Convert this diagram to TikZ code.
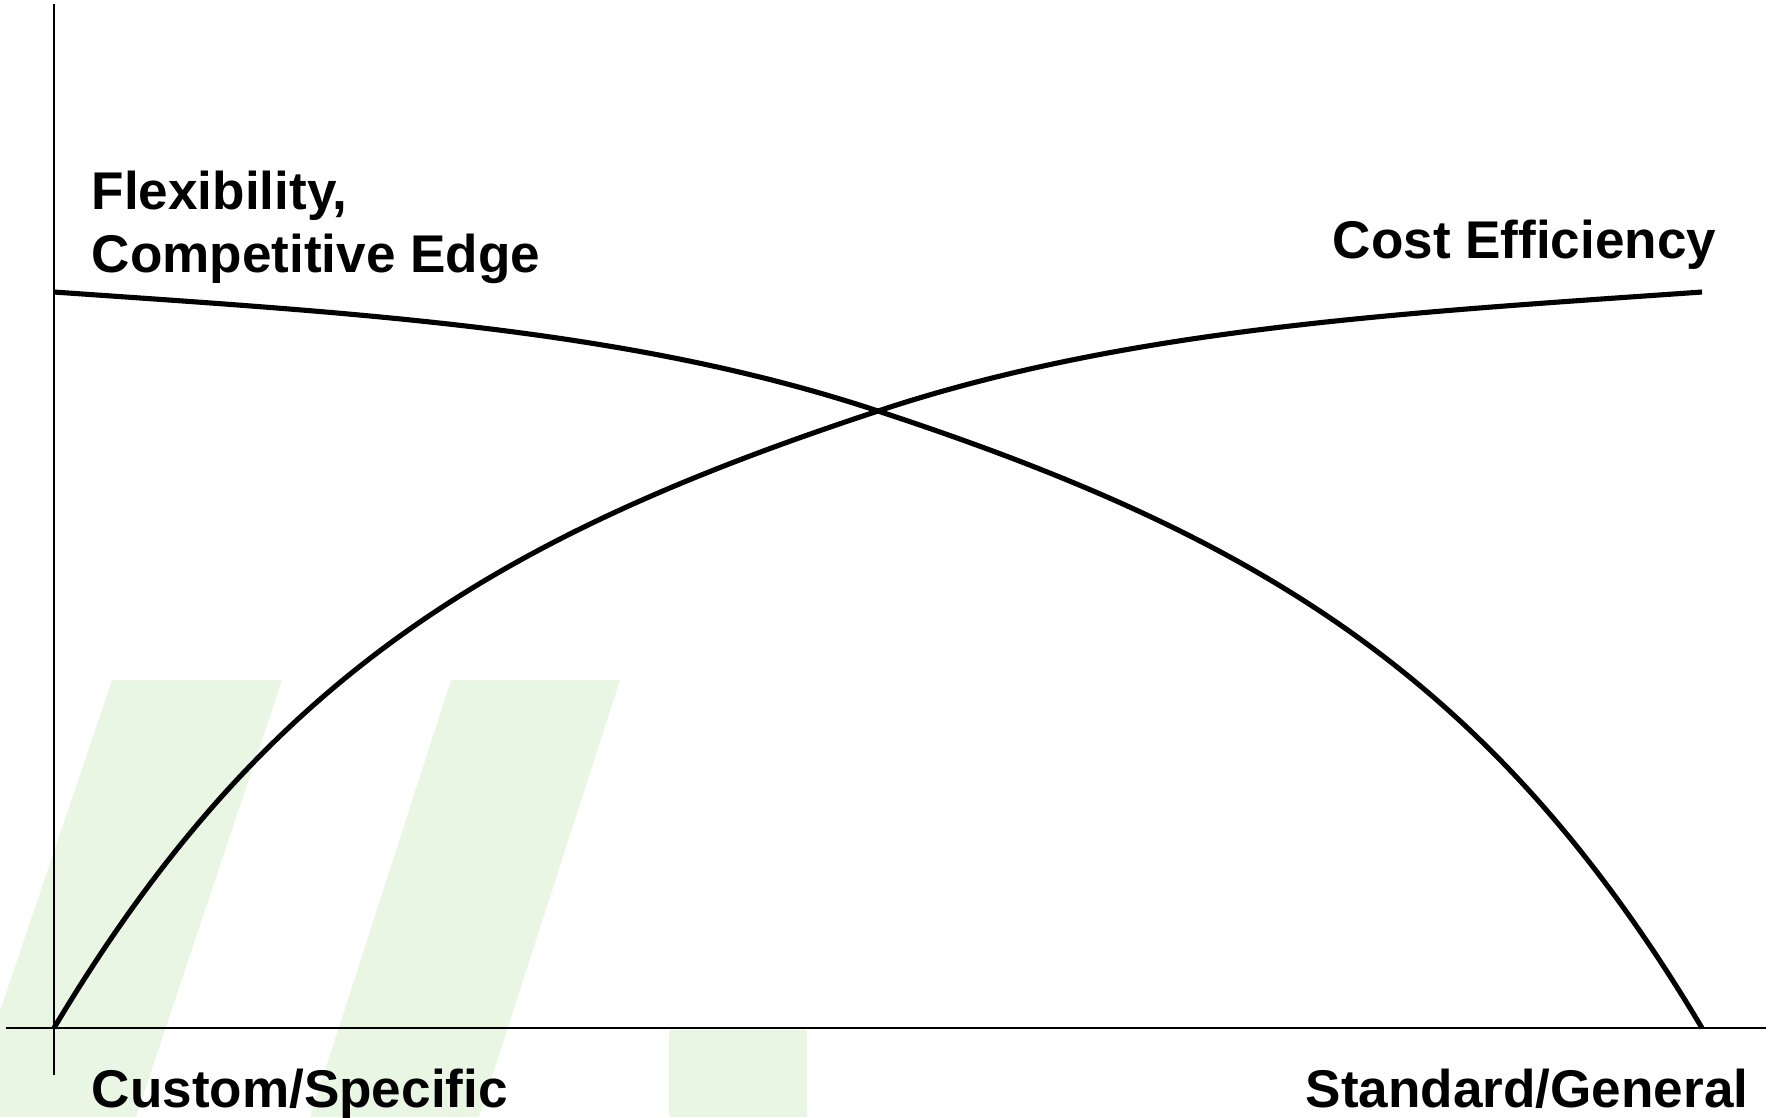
\documentclass[tikz,border=0pt]{standalone}
\usepackage{fontspec}
\setmainfont{Liberation Sans}
\definecolor{ink} {HTML}{000000}
\definecolor{leaf}{HTML}{EAF6E4}
\tikzset{
  axisline/.style={draw=ink, line width=0.6pt},
  tradecurve/.style={draw=ink, line width=1.45pt, line join=round},
  axislabel/.style={font=\fontsize{15.1}{17.9}\selectfont\bfseries,
                    text=ink, inner sep=0pt, align=left},
  leafband/.style={fill=leaf, draw=none}
}

\begin{document}
\begin{tikzpicture}[x=0.01cm, y=-0.01cm]
    \useasboundingbox (0,0) rectangle (1777,1117);

    \fill[leafband] (112,680) -- (282,680) -- (136,1117) -- (0,1117) -- (0,1011) -- cycle;
    \fill[leafband] (451,680) -- (620,680) -- (479,1117) -- (310,1117) -- cycle;
    \fill[leafband] (669,1030) rectangle (807,1117);

    \coordinate (origin) at (54,1028);
    \coordinate (ytop)   at (54,4);
    \coordinate (ybot)   at (54,1075);
    \coordinate (xleft)  at (6,1028);
    \coordinate (xright) at (1766,1028);
    \coordinate (flexstart) at (54,292);
    \coordinate (flexend)   at (1702,1028);
    \coordinate (costend)   at (1702,292);
    \coordinate (cross)     at (878,411);

    \draw[axisline] (ytop) -- (ybot);
    \draw[axisline] (xleft) -- (xright);

    \draw[tradecurve] (flexstart) .. controls (354,313) and (628,328) .. (cross)
                                  .. controls (1258,536) and (1492,676) .. (flexend);
    \draw[tradecurve] (origin) .. controls (264,676) and (498,536) .. (cross)
                               .. controls (1128,328) and (1402,313) .. (costend);

    \node[axislabel, anchor=north west] (flexlabel) at (91,170) {Flexibility,\\Competitive Edge};
    \node[axislabel, anchor=base east] (costlabel) at (1717,258) {Cost Efficiency};
    \node[axislabel, anchor=base west] (customlabel) at (91,1107) {Custom/Specific};
    \node[axislabel, anchor=base east] (standardlabel) at (1749,1107) {Standard/General};
\end{tikzpicture}
\end{document}
